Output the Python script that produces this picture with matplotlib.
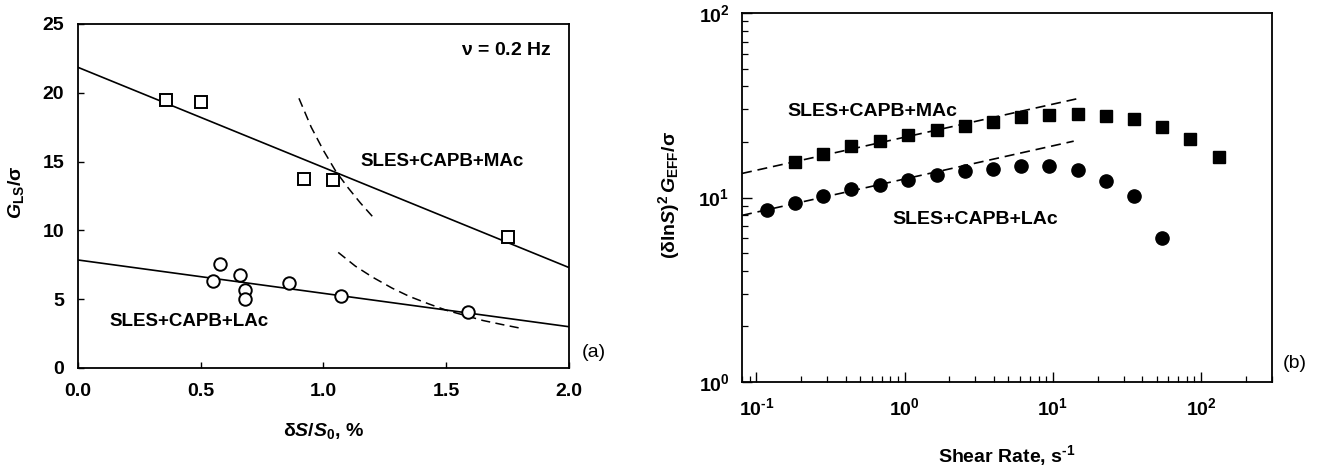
import matplotlib
matplotlib.use('Agg')
import matplotlib.pyplot as plt
from matplotlib.ticker import LogLocator, NullFormatter, FuncFormatter
import numpy as np

plt.rcParams['font.family'] = ['Liberation Sans', 'DejaVu Sans']
plt.rcParams['font.weight'] = 'bold'
plt.rcParams['axes.labelweight'] = 'bold'
plt.rcParams['axes.unicode_minus'] = False
plt.rcParams['mathtext.fontset'] = 'custom'
plt.rcParams['mathtext.rm'] = 'Liberation Sans:bold'
plt.rcParams['mathtext.it'] = 'Liberation Sans:italic:bold'
plt.rcParams['mathtext.bf'] = 'Liberation Sans:bold'
plt.rcParams['mathtext.default'] = 'rm'

# --- panel (a): G_LS/sigma vs dS/S0 ---
mac_strain = [0.36, 0.50, 0.92, 1.04, 1.75]
mac_gls = [19.5, 19.3, 13.75, 13.65, 9.5]
lac_strain = [0.58, 0.55, 0.66, 0.68, 0.68, 0.86, 1.07, 1.59]
lac_gls = [7.55, 6.35, 6.75, 5.65, 5.05, 6.15, 5.2, 4.05]

fit_x = [0.0, 2.0]
mac_fit = [21.85, 7.3]
lac_fit = [7.85, 3.0]

mac_curve_x = [0.90, 0.95, 1.00, 1.05, 1.10, 1.15, 1.20]
mac_curve_y = [19.6, 17.5, 15.8, 14.3, 13.1, 12.0, 11.0]
lac_curve_x = [1.06, 1.13, 1.20, 1.28, 1.35, 1.43, 1.50, 1.58, 1.65, 1.73, 1.80]
lac_curve_y = [8.4, 7.4, 6.6, 5.8, 5.2, 4.65, 4.2, 3.8, 3.45, 3.15, 2.9]

# --- panel (b): effective modulus vs shear rate ---
rate_mac = [0.183, 0.283, 0.438, 0.68, 1.05, 1.64, 2.54, 3.94, 6.1, 9.45,
            14.7, 22.7, 35.1, 54.7, 84.5, 131]
geff_mac = [15.6, 17.3, 19.0, 20.2, 21.7, 23.1, 24.5, 25.8, 27.3, 28.0,
            28.2, 27.8, 26.5, 24.1, 20.8, 16.6]
rate_lac = [0.118, 0.183, 0.283, 0.438, 0.68, 1.05, 1.64, 2.54, 3.94, 6.1,
            9.45, 14.7, 22.7, 35.1, 54.7]
geff_lac = [8.6, 9.35, 10.2, 11.05, 11.75, 12.5, 13.2, 13.9, 14.3, 14.8,
            14.8, 14.1, 12.35, 10.25, 6.03]

trend_x_mac = [0.08, 14.8]
trend_y_mac = [13.5, 34.4]
trend_x_lac = [0.08, 13.8]
trend_y_lac = [8.0, 20.2]


def pow10_label(val, pos):
    # plain hyphen in the exponent, like the old plotting packages
    exp = int(round(np.log10(val)))
    return r'$10^{\mathrm{%s}}$' % str(exp).replace('-', r'\text{-}')


fig = plt.figure(figsize=(13.37, 4.66), dpi=100)
ax1 = fig.add_axes([78 / 1337, 98 / 466, 491 / 1337, 344 / 466])
ax2 = fig.add_axes([742 / 1337, 84 / 466, 530 / 1337, 369 / 466])

for ax in (ax1, ax2):
    for sp in ax.spines.values():
        sp.set_linewidth(1.3)

# left panel
ax1.plot(fit_x, mac_fit, color='black', lw=1.2, zorder=2)
ax1.plot(fit_x, lac_fit, color='black', lw=1.2, zorder=2)
ax1.plot(mac_curve_x, mac_curve_y, color='black', lw=1.1, ls=(0, (6, 3.5)), zorder=2)
ax1.plot(lac_curve_x, lac_curve_y, color='black', lw=1.1, ls=(0, (6, 3.5)), zorder=2)
ax1.plot(mac_strain, mac_gls, ls='none', marker='s', ms=8, mfc='white',
         mec='black', mew=1.4, zorder=3)
ax1.plot(lac_strain, lac_gls, ls='none', marker='o', ms=9, mfc='white',
         mec='black', mew=1.4, zorder=3)

ax1.set_xlim(0, 2)
ax1.set_ylim(0, 25)
ax1.set_xticks([0, 0.5, 1.0, 1.5, 2.0])
ax1.set_xticklabels(['0.0', '0.5', '1.0', '1.5', '2.0'])
ax1.set_yticks([0, 5, 10, 15, 20, 25])
ax1.tick_params(axis='x', direction='in', length=4, width=1.0, labelsize=14,
                pad=11, top=False)
ax1.tick_params(axis='y', direction='in', length=4, width=1.0, labelsize=14,
                pad=10, right=False)
ax1.set_xlabel(r'$\delta \mathit{S}/\mathit{S}_0$, %', fontsize=14)
ax1.set_ylabel(r'$\mathit{G}_{\mathrm{LS}}/\sigma$', fontsize=14)
ax1.xaxis.set_label_coords(0.5, -0.155)
ax1.yaxis.set_label_coords(-0.105, 0.51)

ax1.text(1.93, 23.1, r'$\nu$ = 0.2 Hz', fontsize=14, ha='right', va='center')
ax1.text(1.15, 15.0, 'SLES+CAPB+MAc', fontsize=13.5, ha='left', va='center')
ax1.text(0.13, 3.4, 'SLES+CAPB+LAc', fontsize=13.5, ha='left', va='center')
ax1.text(1.025, 0.045, '(a)', transform=ax1.transAxes, fontsize=14,
         fontweight='normal', ha='left', va='center')

# right panel
ax2.set_xscale('log')
ax2.set_yscale('log')
ax2.plot(trend_x_mac, trend_y_mac, color='black', lw=1.2, ls=(0, (6, 3.5)), zorder=2)
ax2.plot(trend_x_lac, trend_y_lac, color='black', lw=1.2, ls=(0, (6, 3.5)), zorder=2)
ax2.plot(rate_mac, geff_mac, ls='none', marker='s', ms=8.5, color='black', zorder=3)
ax2.plot(rate_lac, geff_lac, ls='none', marker='o', ms=9.5, color='black', zorder=3)

ax2.set_xlim(0.08, 300)
ax2.set_ylim(1, 100)
ax2.xaxis.set_major_locator(LogLocator(base=10, numticks=10))
ax2.xaxis.set_minor_locator(LogLocator(base=10, subs=range(2, 10), numticks=20))
ax2.xaxis.set_major_formatter(FuncFormatter(pow10_label))
ax2.xaxis.set_minor_formatter(NullFormatter())
ax2.yaxis.set_minor_locator(LogLocator(base=10, subs=range(2, 10), numticks=20))
ax2.yaxis.set_major_formatter(FuncFormatter(pow10_label))
ax2.yaxis.set_minor_formatter(NullFormatter())
ax2.tick_params(axis='x', which='major', direction='in', length=7, width=1.0,
                labelsize=14, pad=11, top=False)
ax2.tick_params(axis='y', which='major', direction='in', length=7, width=1.0,
                labelsize=14, pad=9, right=False)
ax2.tick_params(which='minor', direction='in', length=4, width=0.9,
                top=False, right=False)
ax2.set_xlabel(r'Shear Rate, s$^{\text{-}1}$', fontsize=14)
ax2.set_ylabel(r'$(\delta \mathrm{ln}\mathit{S})^2\,\mathit{G}_{\mathrm{EFF}}/\sigma$',
               fontsize=14)
ax2.xaxis.set_label_coords(0.5, -0.165)
ax2.yaxis.set_label_coords(-0.113, 0.507)

ax2.text(0.162, 29.2, 'SLES+CAPB+MAc', fontsize=14, ha='left', va='center')
ax2.text(0.83, 7.6, 'SLES+CAPB+LAc', fontsize=14, ha='left', va='center')
ax2.text(1.02, 0.05, '(b)', transform=ax2.transAxes, fontsize=14,
         fontweight='normal', ha='left', va='center')

fig.savefig('out.png', dpi=100)
